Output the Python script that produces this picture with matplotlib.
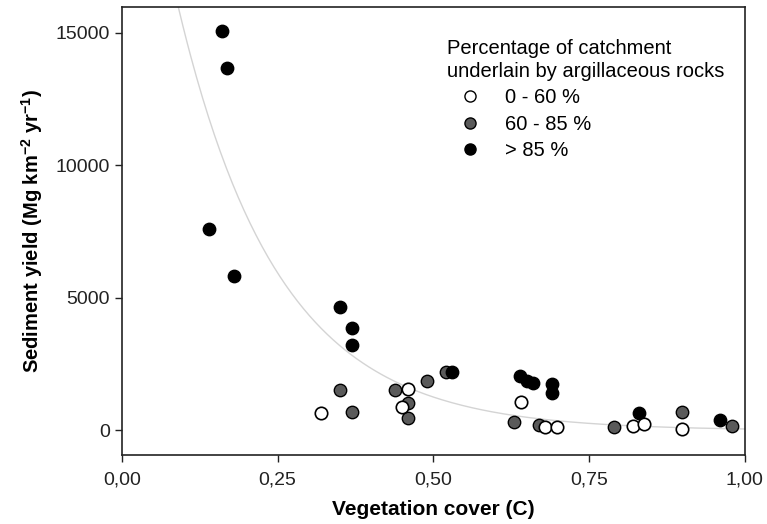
import matplotlib
matplotlib.use("Agg")
import matplotlib.pyplot as plt
from matplotlib.lines import Line2D
import numpy as np

plt.rcParams['font.family'] = ['Liberation Sans', 'DejaVu Sans']
plt.rcParams['mathtext.fontset'] = 'custom'
plt.rcParams['mathtext.bf'] = 'Liberation Sans:bold'
plt.rcParams['mathtext.rm'] = 'Liberation Sans'

# 0 - 60 % argillaceous rocks
x_low = [0.319, 0.449, 0.460, 0.640, 0.680, 0.699, 0.820, 0.839, 0.900]
y_low = [650, 900, 1555, 1065, 120, 120, 170, 245, 70]

# 60 - 85 %
x_mid = [0.350, 0.370, 0.439, 0.460, 0.460, 0.490, 0.520, 0.630, 0.669, 0.790, 0.900, 0.980]
y_mid = [1530, 690, 1530, 1050, 480, 1870, 2220, 330, 210, 145, 710, 170]

# > 85 %
x_high = [0.160, 0.169, 0.140, 0.180, 0.350, 0.370, 0.370, 0.530,
          0.639, 0.650, 0.660, 0.691, 0.691, 0.830, 0.960]
y_high = [15080, 13680, 7600, 5830, 4670, 3860, 3230, 2220,
          2060, 1870, 1800, 1750, 1400, 670, 400]

# exponential fit  y = a * exp(-b * C)
fit_a = 28000
fit_b = 6.2

x_ticks = [0.0, 0.25, 0.5, 0.75, 1.0]
x_tick_labels = ['0,00', '0,25', '0,50', '0,75', '1,00']
y_ticks = [0, 5000, 10000, 15000]

fig = plt.figure(figsize=(7.67, 5.24), dpi=100)
ax = fig.add_axes([0.159, 0.1317, 0.812, 0.854])

xs = np.linspace(0.05, 1.0, 300)
ax.plot(xs, fit_a * np.exp(-fit_b * xs), color='#d4d4d4', lw=1.0, zorder=1)

msize = 80
ax.scatter(x_mid, y_mid, s=msize, c='#5a5a5a', edgecolors='black', linewidths=1.0, zorder=3)
ax.scatter(x_high, y_high, s=msize, c='black', edgecolors='black', linewidths=1.0, zorder=3)
ax.scatter(x_low, y_low, s=msize, c='white', edgecolors='black', linewidths=1.2, zorder=4)

ax.set_xlim(0, 1.0)
ax.set_ylim(-925, 15960)
ax.set_xticks(x_ticks)
ax.set_xticklabels(x_tick_labels)
ax.set_yticks(y_ticks)
ax.tick_params(direction='out', length=5, width=1, labelsize=14, colors='#222222')
ax.tick_params(axis='x', pad=7)
for s in ax.spines.values():
    s.set_linewidth(1.2)
    s.set_color('#222222')

ax.set_xlabel('Vegetation cover (C)', fontsize=15, fontweight='bold', labelpad=8)
ax.set_ylabel(r'Sediment yield (Mg km$^{\mathbf{-2}}$ yr$^{\mathbf{-1}}$)', fontsize=14.5,
              fontweight='bold', labelpad=8)

handles = [
    Line2D([], [], ls='none', marker='o', ms=8, mfc='white', mec='black', mew=1),
    Line2D([], [], ls='none', marker='o', ms=8, mfc='#5a5a5a', mec='black', mew=1),
    Line2D([], [], ls='none', marker='o', ms=8, mfc='black', mec='black', mew=1),
]
leg = ax.legend(handles, ['0 - 60 %', '60 - 85 %', '> 85 %'],
                title='Percentage of catchment\nunderlain by argillaceous rocks',
                title_fontsize=14.5, fontsize=14.5, frameon=False, alignment='left',
                loc='upper left', bbox_to_anchor=(0.50, 0.962),
                handletextpad=0.65, labelspacing=0.36, borderpad=0.2, handlelength=2.2)
leg.get_title().set_linespacing(1.3)

fig.savefig('out.png', dpi=100)
